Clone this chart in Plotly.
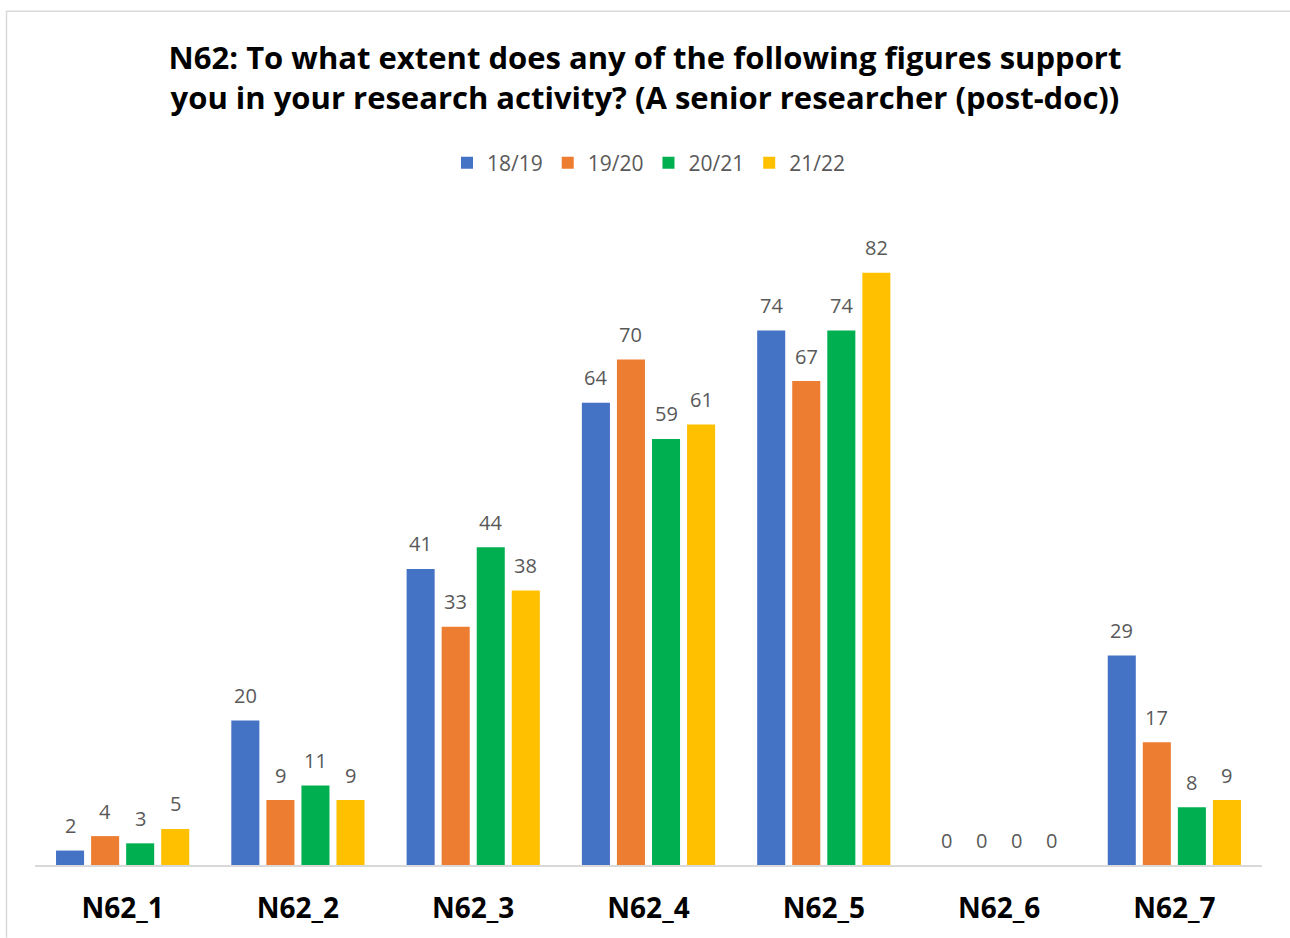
import plotly.graph_objects as go

categories = ["N62_1", "N62_2", "N62_3", "N62_4", "N62_5", "N62_6", "N62_7"]
series_names = ["18/19", "19/20", "20/21", "21/22"]
v_1819 = [2, 20, 41, 64, 74, 0, 29]
v_1920 = [4, 9, 33, 70, 67, 0, 17]
v_2021 = [3, 11, 44, 59, 74, 0, 8]
v_2122 = [5, 9, 38, 61, 82, 0, 9]
colors = ["#4472C4", "#ED7D31", "#00B050", "#FFC000"]

W, H = 1290, 938
L, R, T, B = 35, 28, 215, 71
BARGAP, GROUPGAP = 0.2, 0.2

fig = go.Figure()
all_series = [v_1819, v_1920, v_2021, v_2122]
for name, vals, col in zip(series_names, all_series, colors):
    fig.add_trace(go.Bar(
        x=categories, y=vals, name=name, marker=dict(color=col, line=dict(width=0)),
    ))

pw = W - L - R
ph = H - T - B
cat_px = pw / len(categories)
slot = cat_px * (1 - BARGAP) / len(all_series)

# data labels, placed over each bar
for i, vals in enumerate(all_series):
    for c, v in zip(categories, vals):
        fig.add_annotation(x=c, y=v, text=str(v), showarrow=False,
                           xshift=(i - (len(all_series) - 1) / 2) * slot,
                           yshift=25, yanchor="middle",
                           font=dict(family="Open Sans", size=20, color="#595959"))

def px_x(p):
    return (p - L) / pw
def px_y(p):
    return (H - B - p) / ph

fig.add_shape(type="path", xref="paper", yref="paper",
              path=f"M {px_x(6.5)} {px_y(940)} L {px_x(6.5)} {px_y(10.5)} L {px_x(1292)} {px_y(10.5)}",
              line=dict(color="#D9D9D9", width=1.5))

fig.update_layout(
    width=W, height=H,
    margin=dict(l=L, r=R, t=T, b=B),
    paper_bgcolor="white", plot_bgcolor="white",
    barmode="group", bargap=BARGAP, bargroupgap=GROUPGAP,
    title=dict(
        text="N62: To what extent does any of the following figures support<br>you in your research activity? (A senior researcher (post-doc))",
        x=0.5, xanchor="center", y=1 - 69 / H, yanchor="middle",
        font=dict(family="Open Sans", size=31, color="black", weight="bold"),
    ),
    legend=dict(orientation="h", x=0.5, xanchor="center", y=px_y(163), yanchor="middle",
                font=dict(family="Open Sans", size=21, color="#595959"),
                itemwidth=30, tracegroupgap=0, itemclick=False),
    xaxis=dict(showline=True, linecolor="#D9D9D9", linewidth=2, ticks="",
               tickfont=dict(family="Open Sans", size=28, color="black", weight="bold"),
               ticklabelstandoff=17, showgrid=False),
    yaxis=dict(range=[0, 90], visible=False, showgrid=False),
    showlegend=True,
)

fig.write_html("out.html", config={"displayModeBar": False},
               post_script="document.body.style.margin='0';")
